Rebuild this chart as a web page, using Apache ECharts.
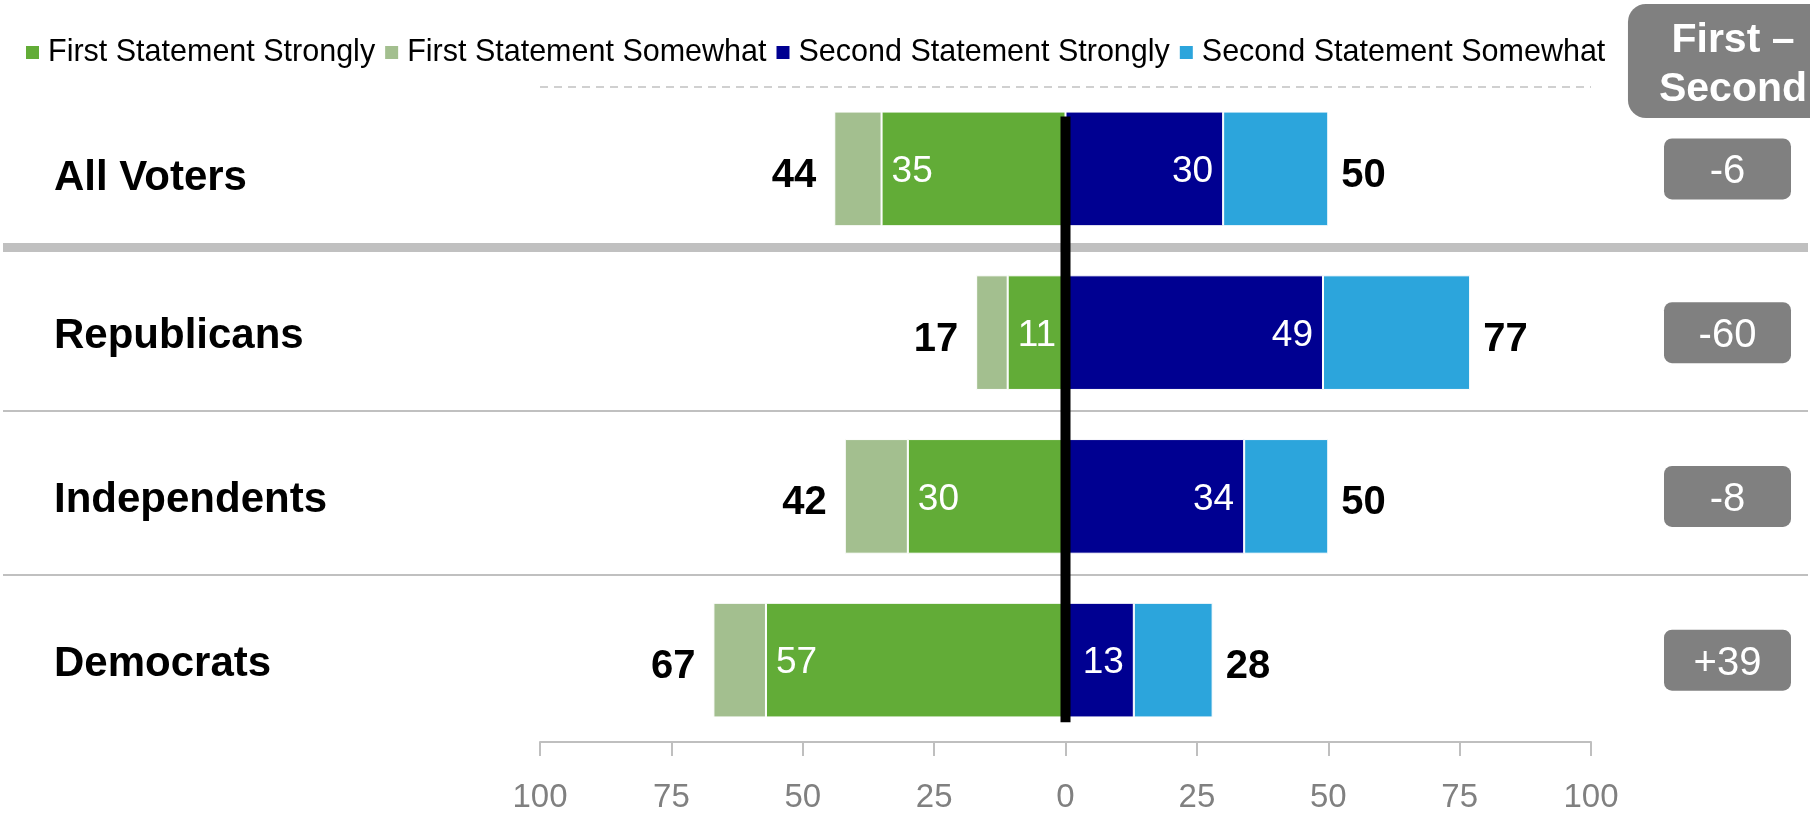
<!DOCTYPE html>
<html><head><meta charset="utf-8">
<script src="https://cdn.jsdelivr.net/npm/echarts@6/dist/echarts.min.js"></script>
<style>html,body{margin:0;padding:0;background:#fff}#c{width:1810px;height:819px}</style>
</head><body><div id="c"></div>
<script>
const categories = ['All Voters', 'Republicans', 'Independents', 'Democrats'];
const seriesNames = ['First Statement Strongly', 'First Statement Somewhat', 'Second Statement Strongly', 'Second Statement Somewhat'];
const firstStrongly = [35, 11, 30, 57];
const firstSomewhat = [9, 6, 12, 10];
const secondStrongly = [30, 49, 34, 13];
const secondSomewhat = [20, 28, 16, 15];
const firstTotal = [44, 17, 42, 67];
const secondTotal = [50, 77, 50, 28];
const netDiff = ['-6', '-60', '-8', '+39'];
const axisMin = -100, axisMax = 100, axisStep = 25;
const zeroLineSpan = [0.18, 3.88];

const FONT = "'Liberation Sans', Arial, sans-serif";
const T = 'rgba(0,0,0,0)';
const chart = echarts.init(document.getElementById('c'), null, {renderer: 'canvas'});

const catStyle = {fontSize: 42, fontWeight: 'bold', color: '#000', fontFamily: FONT};

const option = {
  animation: false,
  textStyle: {fontFamily: FONT},
  legend: {
    data: seriesNames, left: 19, top: 32, icon: 'rect', itemWidth: 15, itemHeight: 15, itemGap: 8,
    textStyle: {fontSize: 30.5, color: '#000', fontFamily: FONT, padding: [0, 0, 0, 3]}
  },
  graphic: [{
    type: 'text', x: 1733, y: 4, z: 100,
    style: {
      text: 'First –\nSecond', fill: '#fff', font: "bold 41px " + FONT, align: 'center', verticalAlign: 'top',
      lineHeight: 49, backgroundColor: '#808080', padding: [12, 31, 4, 31], borderRadius: 18
    }
  }],
  grid: [
    {left: 540, right: 219, top: 87, bottom: 77},
    {left: 3, right: 2, top: 83, bottom: 81}
  ],
  xAxis: [
    {gridIndex: 0, type: 'value', min: axisMin, max: axisMax, interval: axisStep, position: 'bottom',
     axisLine: {show: true, onZero: false, lineStyle: {color: '#bfbfbf', width: 2}},
     axisTick: {show: true, length: 14, lineStyle: {color: '#bfbfbf', width: 2}},
     axisLabel: {color: '#808080', fontSize: 33, margin: 39, fontFamily: FONT, formatter: v => String(Math.abs(v))},
     splitLine: {show: false}},
    {gridIndex: 1, type: 'value', min: 0, max: 1, show: false}
  ],
  yAxis: [
    {gridIndex: 0, type: 'category', data: categories, inverse: true,
     axisLine: {show: false}, axisTick: {show: false},
     axisLabel: {align: 'left', margin: 486,
                 formatter: (v, i) => (i === 0 ? '{a|' : '{b|') + v + '}',
                 rich: {a: Object.assign({padding: [20, 0, 0, 0]}, catStyle),
                        b: Object.assign({padding: [8, 0, 0, 0]}, catStyle)}},
     splitLine: {show: true, interval: 0, lineStyle: {color: ['#d0d0d0', T, T, T, T], width: 2, type: [8, 6]}}},
    {gridIndex: 0, type: 'value', min: 0, max: 4, inverse: true, show: false},
    {gridIndex: 0, type: 'category', data: netDiff, inverse: true, position: 'right',
     axisLine: {show: false}, axisTick: {show: false}, splitLine: {show: false},
     axisLabel: {margin: 73, formatter: v => '{b|' + v + '}',
       rich: {b: {width: 127, height: 54, align: 'center', verticalAlign: 'middle', backgroundColor: '#808080',
                  borderRadius: 8, color: '#fff', fontSize: 40, fontFamily: FONT, padding: [7, 0, 0, 0]}}}},
    {gridIndex: 1, type: 'category', data: categories, inverse: true,
     axisLine: {show: false}, axisTick: {show: false}, axisLabel: {show: false},
     splitLine: {show: true, interval: 0, lineStyle: {color: [T, '#c0c0c0', T, T, T], width: 9}}},
    {gridIndex: 1, type: 'category', data: categories, inverse: true, position: 'right',
     axisLine: {show: false}, axisTick: {show: false}, axisLabel: {show: false},
     splitLine: {show: true, interval: 0, lineStyle: {color: [T, T, '#c0c0c0', '#c0c0c0', T], width: 2}}}
  ],
  series: [
    {name: seriesNames[0], type: 'bar', stack: 'total', xAxisIndex: 0, yAxisIndex: 0, barWidth: '70%',
     data: firstStrongly.map(v => -v),
     itemStyle: {color: '#62AC37', borderColor: '#fff', borderWidth: 1},
     label: {show: true, position: 'insideLeft', distance: 10, offset: [0, 3], color: '#fff', fontSize: 37, fontFamily: FONT,
             formatter: p => String(Math.abs(p.value))}},
    {name: seriesNames[1], type: 'bar', stack: 'total', xAxisIndex: 0, yAxisIndex: 0, barWidth: '70%',
     data: firstSomewhat.map(v => -v),
     itemStyle: {color: '#A3BF8F', borderColor: '#fff', borderWidth: 1},
     label: {show: true, position: 'left', distance: 18, offset: [0, 7], color: '#000', fontSize: 40, fontWeight: 'bold', fontFamily: FONT,
             formatter: p => String(firstTotal[p.dataIndex])}},
    {name: seriesNames[2], type: 'bar', stack: 'total', xAxisIndex: 0, yAxisIndex: 0, barWidth: '70%',
     data: secondStrongly,
     itemStyle: {color: '#000091', borderColor: '#fff', borderWidth: 1},
     label: {show: true, position: 'insideRight', distance: 10, offset: [0, 3], color: '#fff', fontSize: 37, fontFamily: FONT,
             formatter: p => String(p.value)}},
    {name: seriesNames[3], type: 'bar', stack: 'total', xAxisIndex: 0, yAxisIndex: 0, barWidth: '70%',
     data: secondSomewhat,
     itemStyle: {color: '#2CA5DC', borderColor: '#fff', borderWidth: 1},
     label: {show: true, position: 'right', distance: 13, offset: [0, 7], color: '#000', fontSize: 40, fontWeight: 'bold', fontFamily: FONT,
             formatter: p => String(secondTotal[p.dataIndex])}},
    {type: 'line', xAxisIndex: 0, yAxisIndex: 1, z: 20, silent: true, symbol: 'none',
     data: [[0, zeroLineSpan[0]], [0, zeroLineSpan[1]]],
     lineStyle: {color: '#000', width: 10, cap: 'butt'}}
  ]
};
chart.setOption(option);
</script></body></html>
